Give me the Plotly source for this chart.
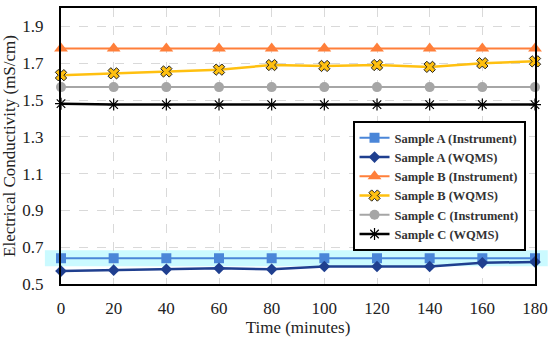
import plotly.graph_objects as go

time_min = [0, 20, 40, 60, 80, 100, 120, 140, 160, 180]
a_instr = [0.64, 0.64, 0.64, 0.64, 0.64, 0.64, 0.64, 0.64, 0.64, 0.64]
a_wqms = [0.57, 0.575, 0.58, 0.585, 0.58, 0.595, 0.595, 0.595, 0.615, 0.62]
b_instr = [1.78, 1.78, 1.78, 1.78, 1.78, 1.78, 1.78, 1.78, 1.78, 1.78]
b_wqms = [1.635, 1.645, 1.655, 1.665, 1.69, 1.685, 1.69, 1.68, 1.70, 1.71]
c_instr = [1.57, 1.57, 1.57, 1.57, 1.57, 1.57, 1.57, 1.57, 1.57, 1.57]
c_wqms = [1.48, 1.475, 1.475, 1.475, 1.475, 1.475, 1.475, 1.475, 1.475, 1.475]

names = ["Sample A (Instrument)", "Sample A (WQMS)", "Sample B (Instrument)",
         "Sample B (WQMS)", "Sample C (Instrument)", "Sample C (WQMS)"]

fig = go.Figure()

styles = [
    (a_instr, dict(color="#4A86D8", width=2), dict(symbol="square", size=10, color="#4A86D8")),
    (a_wqms, dict(color="#1F3F8F", width=2.5), dict(symbol="diamond", size=9, color="#1F3F8F")),
    (b_instr, dict(color="#FF7F3A", width=2), dict(symbol="triangle-up", size=12, color="#FF7F3A")),
    (b_wqms, dict(color="#FFC010", width=2.5), dict(symbol="x", size=10, color="#FFC010",
                                                  line=dict(color="#222222", width=1))),
    (c_instr, dict(color="#A6A6A6", width=2), dict(symbol="circle", size=10, color="#A6A6A6")),
    (c_wqms, dict(color="#000000", width=2.5), dict(symbol="asterisk-open", size=10,
                                                  line=dict(color="#000000", width=1.2))),
]

for name, (vals, ln, mk) in zip(names, styles):
    fig.add_trace(go.Scatter(x=time_min, y=vals, name=name, mode="lines+markers",
                             line=ln, marker=mk, cliponaxis=False))

# cyan glow behind Sample A instrument line
fig.add_shape(type="rect", xref="paper", yref="y", x0=-0.034, x1=1.027,
              y0=a_instr[0] - 0.044, y1=a_instr[0] + 0.044,
              fillcolor="rgba(160,245,255,0.55)", line=dict(width=0), layer="below")

serif = "Liberation Serif, Times New Roman, serif"

fig.update_layout(
    width=550, height=338,
    margin=dict(l=61, r=15, t=8, b=54, autoexpand=False),
    paper_bgcolor="white", plot_bgcolor="white",
    font=dict(family=serif, size=17, color="#222222"),
    legend=dict(x=0.98, y=0.59, xanchor="right", yanchor="top",
                bgcolor="white", bordercolor="black", borderwidth=2,
                font=dict(family=serif, size=12.5, color="#333333", weight="bold"),
                tracegroupgap=0, itemwidth=30),
    showlegend=True,
)

fig.update_xaxes(range=[0, 180], tickvals=time_min, showline=True, linecolor="black",
                 linewidth=2, mirror=True, showgrid=True, gridcolor="#D9D9D9",
                 griddash="dash", zeroline=False, ticks="", automargin=False,
                 ticklabelstandoff=8,
                 title=dict(text="Time (minutes)", font=dict(size=17), standoff=2),
                 tickfont=dict(size=17))
fig.update_yaxes(range=[0.5, 2.0], tick0=0.5, dtick=0.2, tickformat=".1f", showline=True,
                 linecolor="black", linewidth=2, mirror=True, showgrid=True,
                 gridcolor="#D9D9D9", griddash="dash", zeroline=False, ticks="", automargin=False,
                 ticklabelstandoff=12,
                 title=dict(text="Electrical Conductivity (mS/cm)", font=dict(size=17), standoff=2),
                 tickfont=dict(size=17))

fig.write_html("out.html", config={"displayModeBar": False},
               post_script="document.body.style.margin='0';")
